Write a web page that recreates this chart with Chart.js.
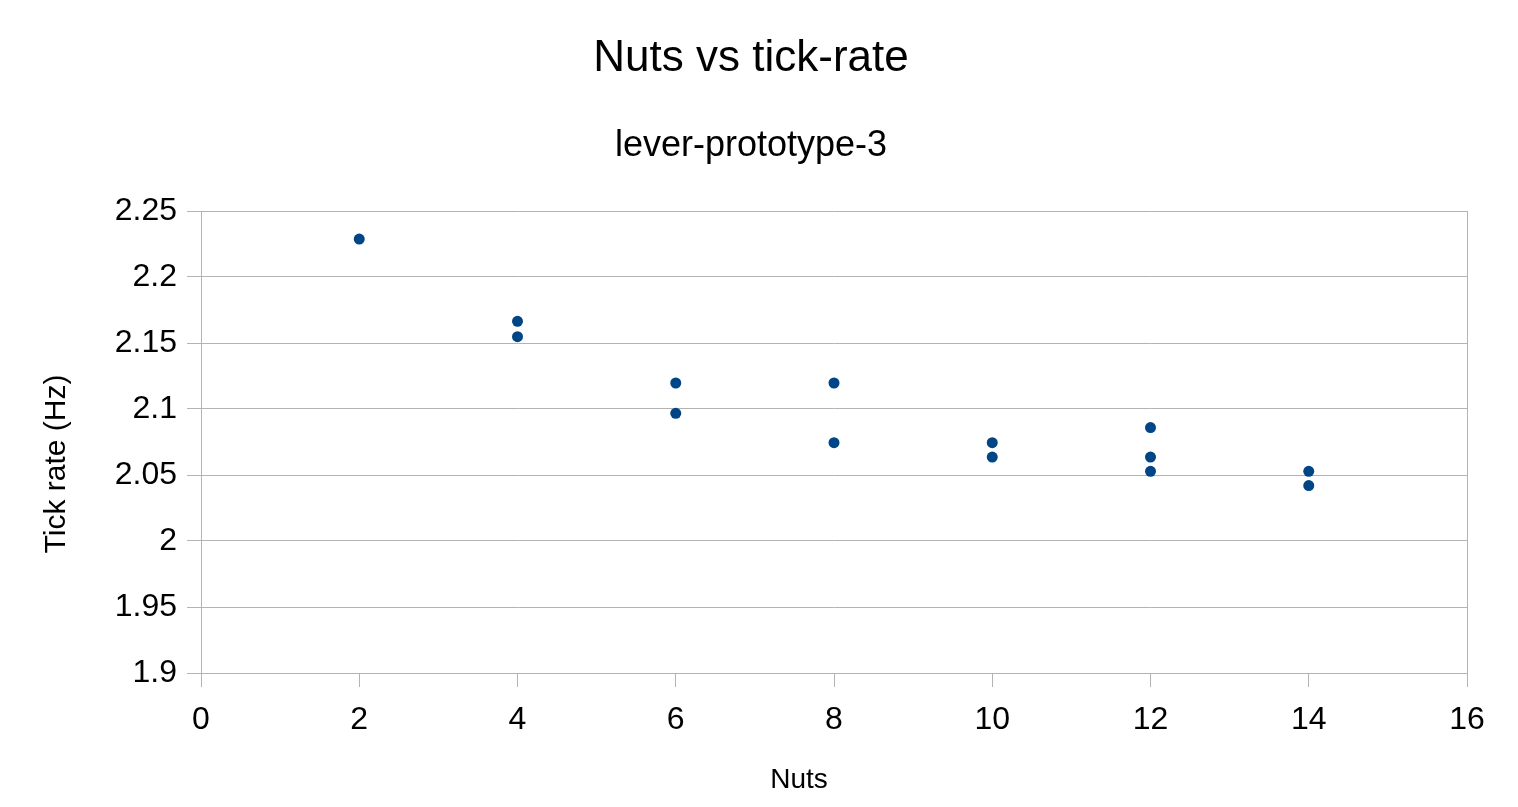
<!DOCTYPE html>
<html>
<head>
<meta charset="utf-8">
<script src="https://cdn.jsdelivr.net/npm/chart.js@4/dist/chart.umd.min.js"></script>
<style>
  html, body { margin: 0; padding: 0; background: #ffffff; }
  #wrap { width: 1518px; height: 807px; }
</style>
</head>
<body>
<div id="wrap"><canvas id="c" width="1518" height="807"></canvas></div>
<script>
// ---- data ----
const nuts = [2, 4, 4, 6, 6, 8, 8, 10, 10, 12, 12, 12, 14, 14];
const tickRate = [2.2287, 2.1664, 2.1548, 2.1197, 2.0967, 2.1197, 2.0745, 2.0745, 2.0636, 2.0859, 2.0636, 2.0528, 2.0528, 2.0420];
const chartTitle = 'Nuts vs tick-rate';
const chartSubtitle = 'lever-prototype-3';
const xAxisTitle = 'Nuts';
const yAxisTitle = 'Tick rate (Hz)';
const xTicks = [0, 2, 4, 6, 8, 10, 12, 14, 16];
const yTicks = [1.9, 1.95, 2, 2.05, 2.1, 2.15, 2.2, 2.25];

const FONT = "'Liberation Sans', Arial, sans-serif";
const GRID = '#b3b3b3';

const points = nuts.map((n, i) => ({ x: n, y: tickRate[i] }));

// axis titles drawn as canvas text, placed like the original (not centred on the plot)
const axisTitlePlugin = {
  id: 'axisTitles',
  afterDraw(chart) {
    const { ctx } = chart;
    ctx.save();
    ctx.fillStyle = '#000000';
    ctx.textAlign = 'center';
    ctx.textBaseline = 'middle';
    ctx.font = "28px " + FONT;
    ctx.fillText(xAxisTitle, 799, 780);
    ctx.font = "30px " + FONT;
    ctx.translate(57, 464);
    ctx.rotate(-Math.PI / 2);
    ctx.fillText(yAxisTitle, 0, 0);
    ctx.restore();
  }
};

new Chart(document.getElementById('c'), {
  type: 'scatter',
  data: {
    datasets: [{
      label: 'Tick rate',
      data: points,
      backgroundColor: '#004586',
      borderColor: '#004586',
      pointRadius: 5.5,
      pointHoverRadius: 5.5,
      borderWidth: 0
    }]
  },
  plugins: [axisTitlePlugin],
  options: {
    responsive: false,
    animation: false,
    devicePixelRatio: 1,
    layout: { padding: { left: 35, right: 51, top: 0, bottom: 0 } },
    plugins: {
      legend: { display: false },
      tooltip: { enabled: false },
      title: {
        display: true,
        text: chartTitle,
        color: '#000000',
        font: { family: FONT, size: 44, weight: 'normal' },
        padding: { top: 32, bottom: 0 }
      },
      subtitle: {
        display: true,
        text: chartSubtitle,
        color: '#000000',
        font: { family: FONT, size: 36, weight: 'normal' },
        padding: { top: 40, bottom: 43 }
      }
    },
    scales: {
      x: {
        type: 'linear',
        min: xTicks[0],
        max: xTicks[xTicks.length - 1],
        afterBuildTicks: s => { s.ticks = xTicks.map(v => ({ value: v })); },
        afterFit: s => { s.height = 134; },
        ticks: {
          color: '#000000',
          font: { family: FONT, size: 32 },
          padding: 14,
          maxRotation: 0,
          autoSkip: false
        },
        grid: {
          color: ctx => (ctx.tick && ctx.tick.value === xTicks[xTicks.length - 1]) ? GRID : 'rgba(0,0,0,0)',
          tickColor: GRID,
          tickLength: 14,
          drawTicks: true
        },
        border: { display: true, color: GRID },
        title: { display: false }
      },
      y: {
        type: 'linear',
        min: yTicks[0],
        max: yTicks[yTicks.length - 1],
        afterBuildTicks: s => { s.ticks = yTicks.map(v => ({ value: v })); },
        afterFit: s => { s.width = 166; },
        ticks: {
          color: '#000000',
          font: { family: FONT, size: 32 },
          padding: 10,
          callback: v => String(+Number(v).toFixed(2))
        },
        grid: {
          color: GRID,
          tickColor: GRID,
          tickLength: 14
        },
        border: { display: true, color: GRID },
        title: { display: false }
      }
    }
  }
});
</script>
</body>
</html>
